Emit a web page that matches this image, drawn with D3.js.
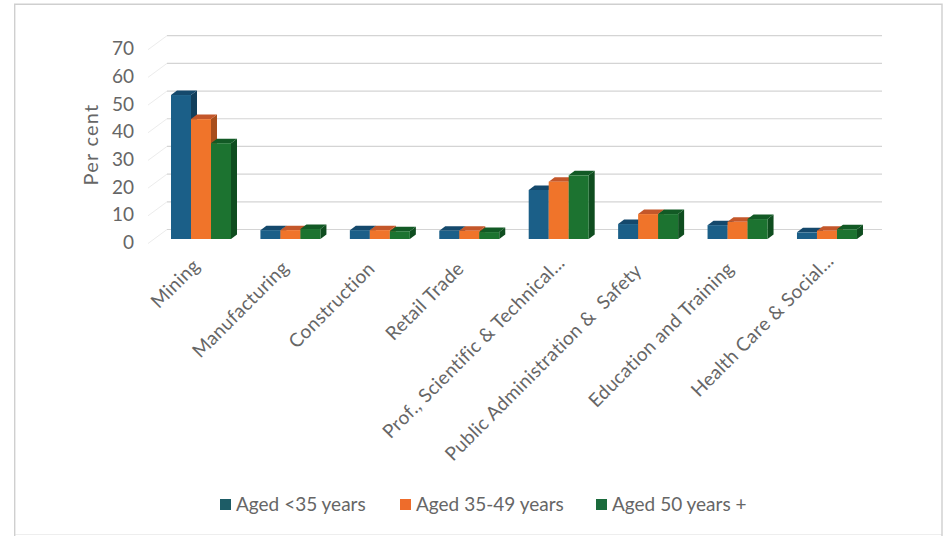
<!DOCTYPE html>
<html>
<head>
<meta charset="utf-8">
<script src="https://cdn.jsdelivr.net/npm/d3@7"></script>
<style>
html,body{margin:0;padding:0;background:#fff}
svg{display:block}
text{font-family:"Lato","Open Sans",sans-serif;fill:#666;white-space:pre}
</style>
</head>
<body>
<svg id="chart" width="944" height="536"></svg>
<script>
const categories = ["Mining","Manufacturing","Construction","Retail Trade","Prof., Scientific & Technical...","Public Administration &  Safety","Education and Training","Health Care & Social..."];
const seriesNames = ["Aged <35 years","Aged 35-49 years","Aged 50 years +"];
const under35 = [52,3.2,3.2,3,17.7,5.4,5,2.4];
const mid35to49 = [43.3,3.2,3.2,3,20.7,9,6.2,3];
const over50 = [34.6,3.6,2.8,2.5,23,9,7.2,3.5];
const yTicks = [0,10,20,30,40,50,60,70];
const labelEnds = [[203,260],[292,262],[378,263],[467,263],[568,257],[645,265],[737,263],[837,255]];

const frontColors = ["#1b5f88","#f0742a","#1c7330"];
const sideColors = ["#123f5c","#a84e1c","#0f4d1f"];
const topColors = ["#15496c","#c4572a","#125a25"];
const legendColors = ["#1d5c66","#ee6c2b","#1b6b3c"];
const rows = [under35, mid35to49, over50];

const svg = d3.select("#chart");
const barDepth = {x:6,y:-4.5};    // side face of each bar

const y = d3.scaleLinear().domain([0,70]).range([239,45.2]);
const x = d3.scaleBand().domain(categories).range([137,852.4]);
const barW = 20;

// frame: strong on three sides, barely visible along the bottom
svg.append("path").attr("fill","none").attr("stroke","#eeeeee").attr("d","M15,534.5H942");
svg.append("path").attr("fill","none").attr("stroke","#cfcfcf").attr("stroke-width",1.4)
  .attr("d","M14.7,536V4.2H942V536");

// back-wall gridlines and their faint return along the side wall
const grid = svg.append("g").attr("fill","none");
yTicks.forEach(t=>{
  const py = y(t)-9.5;
  grid.append("path").attr("stroke","#d4d4d4").attr("stroke-width",1.2).attr("d",`M167,${py}H882`);
  grid.append("path").attr("stroke","#ececec").attr("d",`M167,${py}L148,${py+14}`);
});

// y axis labels
const yAxis = d3.axisLeft(y).tickValues(yTicks).tickSize(0).tickPadding(0).tickFormat(d3.format("d"));
const yG = svg.append("g").attr("transform","translate(134,2.7)").call(yAxis);
yG.select(".domain").remove();
yG.selectAll("text").attr("font-size",19).attr("dy","0.36em").style("font-family","Lato").style("fill","#666");

svg.append("text").attr("transform","translate(98,144.5) rotate(-90)")
  .attr("text-anchor","middle").attr("font-size",20).attr("letter-spacing",1.2).text("Per cent");

// bars, drawn left to right so each one overlaps the side of its neighbour
categories.forEach((c,i)=>{
  const x0 = x(c)+34;
  rows.forEach((r,s)=>{
    const bx = x0+s*barW, by = y(r[i]), b0 = y(0);
    const g = svg.append("g");
    g.append("path").attr("fill",sideColors[s])
      .attr("d",`M${bx+barW},${by}l${barDepth.x},${barDepth.y}V${b0+barDepth.y}l${-barDepth.x},${-barDepth.y}Z`);
    g.append("path").attr("fill",topColors[s])
      .attr("d",`M${bx},${by}l${barDepth.x},${barDepth.y}h${barW}l${-barDepth.x},${-barDepth.y}Z`);
    g.append("rect").attr("x",bx).attr("y",by).attr("width",barW).attr("height",b0-by).attr("fill",frontColors[s]);
  });
});

// category labels, rotated, ending just under their group
categories.forEach((c,i)=>{
  svg.append("text").attr("transform",`translate(${labelEnds[i][0]-2},${labelEnds[i][1]+7}) rotate(-45)`)
    .attr("text-anchor","end").attr("font-size",19).attr("letter-spacing",0.35).text(c);
});

// legend
const legendX = [220,400,596];
seriesNames.forEach((n,i)=>{
  svg.append("rect").attr("x",legendX[i]).attr("y",499).attr("width",11).attr("height",11).attr("fill",legendColors[i]);
  svg.append("text").attr("x",legendX[i]+16).attr("y",511).attr("font-size",19).text(n);
});
</script>
</body>
</html>
